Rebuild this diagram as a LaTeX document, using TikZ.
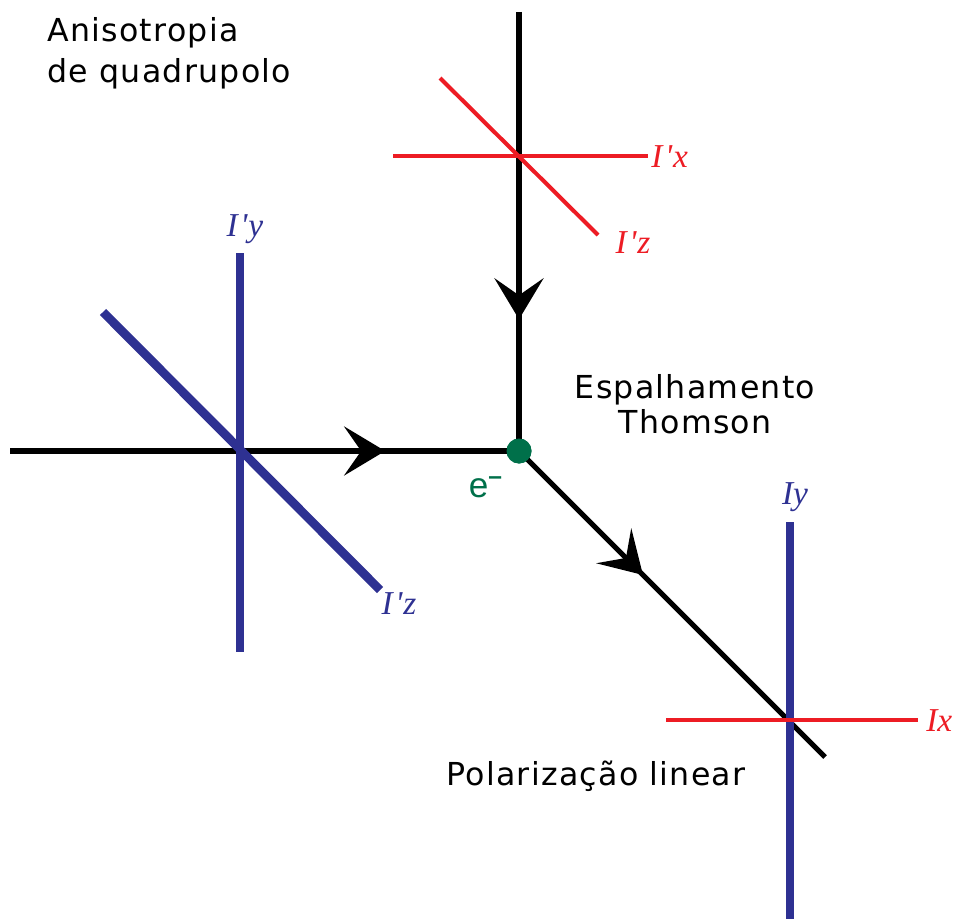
\documentclass[tikz,border=0pt]{standalone}
\usepackage{fontspec}
\setmainfont[LetterSpace=4]{DejaVu Sans}
\newfontfamily\labelfont{Liberation Serif}
\newfontfamily\elecfont{Liberation Sans}
\usepackage{xcolor}
\usetikzlibrary{arrows.meta, decorations.markings, positioning}
\definecolor{polRed}{HTML}{ED1C24}
\definecolor{polBlue}{HTML}{2E3192}
\definecolor{elecGreen}{HTML}{00704A}

\begin{document}
\begin{tikzpicture}[
    x=0.02cm, y=-0.02cm,
    ray/.style={line width=3pt, black},
    midarrow/.style={postaction={decorate}, decoration={markings,
        mark=at position #1 with {\arrow{Stealth[length=0.82cm, width=0.98cm, inset=0.34cm]}}}},
    redline/.style={line width=2.3pt, polRed},
    blueline/.style={line width=5pt, polBlue},
    axlabel/.style={font=\labelfont\itshape\fontsize{19}{22}\selectfont, inner sep=0pt},
    caption/.style={font=\fontsize{18}{23.5}\selectfont, inner sep=0pt},
]
    \useasboundingbox (0,0) rectangle (963,919);

    % Electron
    \node[circle, fill=elecGreen, minimum size=0.5cm, inner sep=0pt] (e) at (519,451) {};
    \node[font=\elecfont\fontsize{20}{22}\selectfont, inner sep=0pt, text=elecGreen] (eminus) at (486,487) {e\textsuperscript{\textbf{–}}};

    % Rays
    \coordinate (topin) at (519,12);
    \coordinate (leftin) at (10,451);
    \coordinate (outend) at (825,757);
    \draw[ray, midarrow=0.70] (topin) -- (e.center);
    \draw[ray, midarrow=0.737] (leftin) -- (e.center);
    \draw[ray, midarrow=0.405] (e.center) -- (outend);

    % Incoming polarisation (top)
    \draw[redline] (393,156) -- (648,156);
    \draw[redline] (440,78) -- (598,235);
    \node[axlabel, text=polRed, anchor=west] (ipx) at (651,157) {I\kern1.5pt'\kern0.5pt x};
    \node[axlabel, text=polRed] (ipz1) at (633,243) {I\kern1.5pt'\kern0.5pt z};

    % Incoming polarisation (left)
    \draw[blueline] (240,253) -- (240,652);
    \draw[blueline] (103,312) -- (380,590);
    \node[axlabel, text=polBlue] (ipy) at (245,229) {I\kern1.5pt'\kern0.5pt y};
    \node[axlabel, text=polBlue] (ipz2) at (399,604) {I\kern1.5pt'\kern0.5pt z};

    % Outgoing polarisation
    \draw[blueline] (790,522) -- (790,919);
    \draw[redline] (666,720) -- (918,720);
    \node[axlabel, text=polBlue] (iy) at (795,497) {Iy};
    \node[axlabel, text=polRed, anchor=west] (ix) at (926,721) {Ix};

    % Electron on top
    \fill[elecGreen] (e) circle (0.25cm);

    % Labels
    \node[caption, anchor=north west, align=left] (aniso) at (47,17) {Anisotropia\\de quadrupolo};
    \node[caption, font=\fontsize{18}{20}\selectfont, align=center] (thomson) at (695,404) {Espalhamento\\Thomson};
    \node[caption] (linpol) at (596,776) {Polarização linear};
\end{tikzpicture}
\end{document}
